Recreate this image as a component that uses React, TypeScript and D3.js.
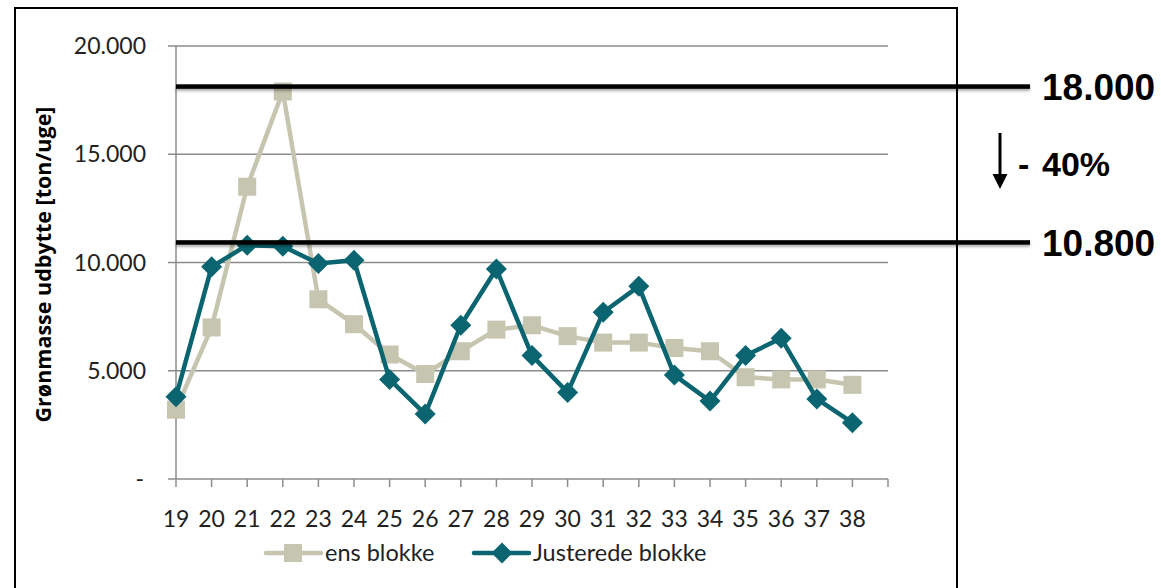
import * as d3 from 'd3'

const W = 1161, H = 588
const M = { left: 176, right: 888, top: 46, bottom: 479 }

const weeks = [19, 20, 21, 22, 23, 24, 25, 26, 27, 28, 29, 30, 31, 32, 33, 34, 35, 36, 37, 38]
const ensBlokke = [3200, 7000, 13500, 17900, 8300, 7150, 5750, 4850, 5900, 6900, 7100, 6600, 6300, 6300, 6050, 5900, 4700, 4600, 4600, 4350]
const justerede = [3800, 9800, 10800, 10750, 9950, 10100, 4600, 3000, 7100, 9700, 5700, 4000, 7700, 8900, 4800, 3600, 5700, 6500, 3700, 2600]
const yTicks = [0, 5000, 10000, 15000, 20000]
const refLevels = [18000, 10800]
const refLabels = ['18.000', '10.800']

const C_ENS = '#c6c5b0'
const C_JUST = '#0a6571'
const GRID = '#8c8c8c'

const fmt = (v: number) => (v === 0 ? '-' : d3.format(',.3f')(v / 1000).replace(',', '.'))

export default function App() {
  const x = d3.scaleLinear().domain([19, 39]).range([M.left, M.right])
  const y = d3.scaleLinear().domain([0, 20000]).range([M.bottom, M.top])
  const line = d3.line<number>().x((_, i) => x(weeks[i])).y((d) => y(d))
  const diamond = (cx: number, cy: number, r: number) => `M${cx},${cy - r}L${cx + r},${cy}L${cx},${cy + r}L${cx - r},${cy}Z`
  const font = 'Lato, "Open Sans", sans-serif'
  const arial = 'Arial, "Liberation Sans", sans-serif'

  return (
    <svg width={W} height={H} style={{ position: 'absolute', left: 0, top: 0 }} fontFamily={font}>
      <defs>
        <filter id="sh" x="-5%" y="-100%" width="110%" height="400%">
          <feDropShadow dx="0" dy="2" stdDeviation="1.5" floodColor="#000" floodOpacity="0.35" />
        </filter>
      </defs>
      <rect width={W} height={H} fill="#fff" />
      <rect x={15} y={8} width={942} height={620} fill="none" stroke="#000" strokeWidth={2} />

      {/* gridlines */}
      {yTicks.filter((t) => t > 0).map((t) => (
        <line key={t} x1={M.left - 8} x2={M.right} y1={y(t)} y2={y(t)} stroke={GRID} strokeWidth={1.5} />
      ))}
      <line x1={M.left} x2={M.left} y1={M.top} y2={M.bottom} stroke={GRID} strokeWidth={1.5} />
      <line x1={M.left - 8} x2={M.right} y1={M.bottom} y2={M.bottom} stroke={GRID} strokeWidth={1.5} />
      {weeks.concat([39]).map((w) => (
        <line key={w} x1={x(w)} x2={x(w)} y1={M.bottom} y2={M.bottom + 8} stroke={GRID} strokeWidth={1.5} />
      ))}

      {/* y labels */}
      {yTicks.map((t) => (
        <text key={t} x={t === 0 ? 144 : 146} y={y(t)} dy="0.35em" textAnchor="end" fontSize={23} fill="#222">{fmt(t)}</text>
      ))}
      <text transform={`translate(51,${(M.top + M.bottom) / 2 + 2}) rotate(-90)`} textAnchor="middle" fontSize={21.5} fontWeight="bold" fill="#000"
        fontFamily='"Open Sans", sans-serif'>Grønmasse udbytte [ton/uge]</text>

      {/* x labels */}
      {weeks.map((w) => (
        <text key={w} x={x(w)} y={519} dy="0.35em" textAnchor="middle" fontSize={23} fill="#222">{w}</text>
      ))}

      {/* series */}
      <path d={line(ensBlokke) ?? ''} fill="none" stroke={C_ENS} strokeWidth={4.5} strokeLinejoin="round" />
      {ensBlokke.map((v, i) => (
        <rect key={i} x={x(weeks[i]) - 9} y={y(v) - 9} width={18} height={18} fill={C_ENS} />
      ))}
      <path d={line(justerede) ?? ''} fill="none" stroke={C_JUST} strokeWidth={4.5} strokeLinejoin="round" />
      {justerede.map((v, i) => (
        <path key={i} d={diamond(x(weeks[i]), y(v), 10.5)} fill={C_JUST} />
      ))}

      {/* reference lines */}
      {refLevels.map((v, i) => (
        <g key={v}>
          <rect x={M.left} width={1030 - M.left} y={y(v) - 5} height={4.5} fill="#000" filter="url(#sh)" />
          <text x={1042} y={y(v) - 3} dy="0.36em" fontFamily={arial} fontWeight="bold" fontSize={37} fill="#000">{refLabels[i]}</text>
        </g>
      ))}
      <line x1={1000} x2={1000} y1={133} y2={176} stroke="#000" strokeWidth={3} />
      <path d="M992.5,174L1007.5,174L1000,189Z" fill="#000" />
      <text x={1018} y={164} dy="0.36em" fontFamily={arial} fontWeight="bold" fontSize={34} fill="#000">-</text>
      <text x={1042} y={164} dy="0.36em" fontFamily={arial} fontWeight="bold" fontSize={34} fill="#000">40%</text>

      {/* legend */}
      <line x1={266} x2={321} y1={553} y2={553} stroke={C_ENS} strokeWidth={4.5} strokeLinecap="round" />
      <rect x={284} y={544} width={18} height={18} fill={C_ENS} />
      <text x={325} y={553} dy="0.35em" fontSize={23.5} fill="#222">ens blokke</text>
      <line x1={474} x2={529} y1={553} y2={553} stroke={C_JUST} strokeWidth={4.5} strokeLinecap="round" />
      <path d={diamond(502, 553, 10.5)} fill={C_JUST} />
      <text x={533} y={553} dy="0.35em" fontSize={23.5} fill="#222">Justerede blokke</text>
    </svg>
  )
}
